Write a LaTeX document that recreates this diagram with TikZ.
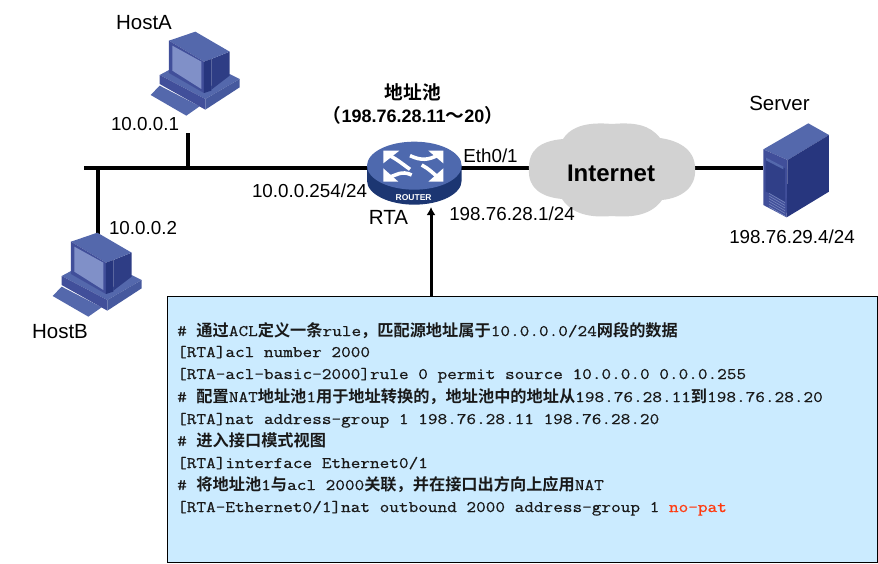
\documentclass[tikz,border=0pt]{standalone}
\usepackage{fontspec}
\setmainfont{Liberation Sans}
\newfontfamily\cjkf[BoldFont={Noto Sans CJK SC Bold}]{Noto Sans CJK SC}
\newfontfamily\codef[FakeStretch=1.163,FakeBold=0.6]{Latin Modern Mono}
\usetikzlibrary{arrows.meta}
\definecolor{hlight}{HTML}{5468AC}
\definecolor{hmid}{HTML}{414F9A}
\definecolor{hdark}{HTML}{27367E}
\definecolor{hscreen}{HTML}{8090C8}
\definecolor{boxfill}{HTML}{CBEBFF}
\definecolor{cloudgray}{HTML}{D2D2D2}
\definecolor{rtop}{HTML}{4E69AE}
\definecolor{rside}{HTML}{1C3672}
\definecolor{natred}{HTML}{FF3A10}
\tikzset{
  link/.style={draw=black,line width=3.6pt},
  lab/.style={font=\fontsize{18.8}{20}\selectfont,anchor=base,inner sep=0pt,text=black},
  namelab/.style={lab,font=\fontsize{20.5}{22}\selectfont},
  boldlab/.style={lab,font=\fontsize{18}{20}\selectfont\bfseries},
  code/.style={anchor=base west,inner sep=0pt,font=\fontsize{16.1}{18}\codef,text=black!90},
  holder/.style={rectangle,inner sep=0pt,draw=none},
  rarrow/.style={draw=white,line width=3.6pt},
  rhead/.style={fill=white,draw=none}
}
\newcommand{\cjt}[1]{{\cjkf\bfseries\fontsize{16.2}{18}\selectfont #1}}
\newcommand{\hosticon}[2]{%
\begin{scope}[shift={(#1,#2)},x=0.3333pt,y=-0.3333pt]
  \fill[hlight] (98,228)--(125,200)--(245,262)--(205,290)--cycle;
  \fill[hlight] (125,168)--(155,152)--(258,215)--(335,165)--(365,180)--(262,240)--cycle;
  \fill[hmid] (125,168)--(262,240)--(262,272)--(125,195)--cycle;
  \fill[hlight!70!hdark] (262,240)--(365,180)--(365,205)--(262,272)--cycle;
  \fill[hdark!85!hlight] (280,120)--(335,98)--(335,170)--(280,212)--cycle;
  \fill[hlight] (153,65)--(232,38)--(335,98)--(280,120)--(258,128)--cycle;
  \fill[hmid] (153,65)--(258,128)--(258,222)--(153,162)--cycle;
  \fill[hdark] (258,128)--(280,120)--(280,215)--(258,222)--cycle;
  \fill[hscreen] (163,80)--(250,128)--(250,210)--(163,155)--cycle;
\end{scope}}
\begin{document}
\begin{tikzpicture}[x=1pt,y=-1pt]
\useasboundingbox (0,0) rectangle (878,563);
% holders
\node[holder,minimum width=92pt,minimum height=64pt] (router) at (413,168) {};
\node[holder,minimum width=166pt,minimum height=84pt] (cloud) at (612,168) {};
\node[holder,minimum width=66pt,minimum height=94pt] (server) at (796,168) {};
\node[holder,minimum width=4pt,minimum height=4pt] (hostA) at (188,133) {};
\node[holder,minimum width=4pt,minimum height=4pt] (hostB) at (98,234) {};
\coordinate (busEnd) at (84,168);
% links
\draw[link] (busEnd) -- (router.west);
\draw[link] (hostA.center) -- (hostA.center |- busEnd);
\draw[link] (hostB.center) -- (hostB.center |- busEnd);
\draw[link] (router.east) -- (cloud.west);
\draw[link] (cloud.east) -- (server.west);
% icons
\hosticon{118}{19}
\hosticon{20}{220}
% router
\begin{scope}[shift={(360,135)},x=0.3333pt,y=-0.3333pt]
  \fill[rside] (21,92) -- (21,137) .. controls (21,177) and (85,209) .. (163,209) .. controls (241,209) and (305,177) .. (305,137) -- (305,92) -- cycle;
  \fill[rtop] (163,92) ellipse[x radius=142,y radius=72];
  \draw[rarrow] (85,60) .. controls (110,72) and (125,85) .. (150,103);
  \draw[rarrow] (235,60) .. controls (205,75) and (185,78) .. (150,62);
  \draw[rarrow] (85,128) .. controls (105,122) and (125,105) .. (155,120);
  \draw[rarrow] (235,128) .. controls (220,115) and (205,100) .. (185,90);
  \fill[rhead] (70,47)--(118,47)--(70,85)--cycle;
  \fill[rhead] (250,47)--(205,47)--(250,85)--cycle;
  \fill[rhead] (70,140)--(70,100)--(115,140)--cycle;
  \fill[rhead] (250,140)--(250,100)--(205,140)--cycle;
  \node[inner sep=0pt,text=white,font=\fontsize{8.5}{10}\selectfont\bfseries] (routerword) at (161,188) {ROUTER};
\end{scope}
% cloud
\fill[cloudgray] (529,170) .. controls (528,150) and (540,141) .. (563,139)
  .. controls (572,125) and (590,122) .. (612,124)
  .. controls (635,122) and (650,125) .. (660,138)
  .. controls (682,141) and (696,152) .. (695,170)
  .. controls (696,187) and (682,198) .. (662,200)
  .. controls (652,214) and (635,218) .. (612,216)
  .. controls (590,218) and (572,214) .. (562,199)
  .. controls (540,197) and (528,187) .. (529,170) -- cycle;
\node[lab,font=\fontsize{24}{26}\selectfont\bfseries] (internet) at (611,181) {Internet};
% server
\begin{scope}[shift={(720,90)},x=0.3333pt,y=-0.3333pt]
  \fill[hlight] (130,178)--(265,100)--(327,135)--(203,210)--cycle;
  \fill[hmid] (130,178)--(203,210)--(200,382)--(130,345)--cycle;
  \fill[hdark] (203,210)--(327,135)--(327,305)--(200,382)--cycle;
  \fill[hdark!65!hmid] (137,205)--(195,235)--(195,335)--(145,308)--(137,305)--cycle;
  \fill[hlight] (138,203)--(190,230)--(190,238)--(138,211)--cycle;
  \foreach \d in {0,8,16,24,32,40}{
    \draw[hlight!80!white,line width=0.6pt] (147,{310+\d}) -- (195,{338+\d});
  }
\end{scope}
% labels
\node[namelab] (lA) at (144,29) {HostA};
\node[lab] (ipA) at (145,130) {10.0.0.1};
\node[lab] (ipB) at (143,234) {10.0.0.2};
\node[namelab] (lB) at (60,338) {HostB};
\node[lab] (ipR) at (309.5,197) {10.0.0.254/24};
\node[namelab] (lR) at (388.5,224) {RTA};
\node[lab] (eth) at (490.5,162) {Eth0/1};
\node[lab] (ipE) at (512,220) {198.76.28.1/24};
\node[namelab] (lS) at (779.5,110) {Server};
\node[lab] (ipS) at (792,243) {198.76.29.4/24};
\node[boldlab] (pool) at (413,99) {\cjkf\bfseries\fontsize{18.7}{20}\selectfont 地址池};
\node[boldlab] (range) at (413,122) {{\cjkf\bfseries\fontsize{18.7}{20}\selectfont （}198.76.28.11{\cjkf\bfseries\fontsize{18.7}{20}\selectfont ～}20{\cjkf\bfseries\fontsize{18.7}{20}\selectfont ）}};
% code box
\node[draw=black,line width=1.2pt,fill=boxfill,anchor=north west,minimum width=710.5pt,minimum height=266pt,inner sep=0pt] (codebox) at (166.5,296) {};
\coordinate (arrowX) at (431,207);
\draw[draw=black,line width=3pt,-{Latex[length=8pt,width=9pt]}] (codebox.north -| arrowX) -- (arrowX);
\node[code] (c1) at (177,336) {\# \cjt{通过}ACL\cjt{定义一条}rule\cjt{，匹配源地址属于}10.0.0.0/24\cjt{网段的数据}};
\node[code] (c2) at (177,357) {[RTA]acl number 2000};
\node[code] (c3) at (177,379) {[RTA-acl-basic-2000]rule 0 permit source 10.0.0.0 0.0.0.255};
\node[code] (c4) at (177,402) {\# \cjt{配置}NAT\cjt{地址池}1\cjt{用于地址转换的，地址池中的地址从}198.76.28.11\cjt{到}198.76.28.20};
\node[code] (c5) at (177,424) {[RTA]nat address-group 1 198.76.28.11 198.76.28.20};
\node[code] (c6) at (177,446) {\# \cjt{进入接口模式视图}};
\node[code] (c7) at (177,468) {[RTA]interface Ethernet0/1};
\node[code] (c8) at (177,490) {\# \cjt{将地址池}1\cjt{与}acl 2000\cjt{关联，并在接口出方向上应用}NAT};
\node[code] (c9) at (177,512) {[RTA-Ethernet0/1]nat outbound 2000 address-group 1 \textcolor{natred}{no-pat}};
\end{tikzpicture}
\end{document}
